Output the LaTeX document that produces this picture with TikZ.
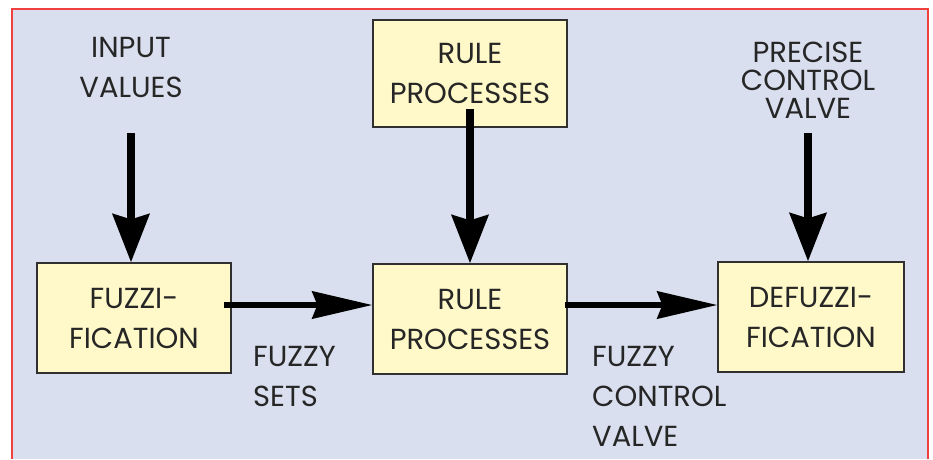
\documentclass[tikz,border=0pt]{standalone}
\usepackage{fontspec}
\setmainfont{Poppins}
\usetikzlibrary{arrows.meta}
\definecolor{bgblue}{HTML}{D9DFEE}
\definecolor{boxfill}{HTML}{FFF8C8}
\definecolor{frame}{HTML}{F04040}
\definecolor{edge}{HTML}{303030}
\tikzset{
  x=1pt,y=1pt,
  txt/.style={inner sep=0pt, align=center, font=\fontsize{29}{40}\selectfont, text=black!85},
  blk/.style={draw=edge, line width=1.2pt, fill=boxfill, minimum width=194pt, minimum height=110pt, inner sep=0pt, align=center, font=\fontsize{29}{40}\selectfont, text=black!85},
  varrow/.style={line width=8.5pt, -{Stealth[length=48pt,width=36pt,inset=5pt]}},
  harrow/.style={line width=6pt, -{Stealth[length=60pt,width=27pt,inset=5pt]}},
}
\begin{document}
\begin{tikzpicture}
\useasboundingbox (0,0) rectangle (933,-459);
\fill[bgblue] (12,-9) rectangle (928,-459);
\draw[frame, line width=2pt] (12,-459) -- (12,-9) -- (928,-9) -- (928,-459);
% boxes
\node[blk] (fz) at (134,-318) {FUZZI-\\FICATION};
\node[blk] (rp) at (470,-319) {RULE\\PROCESSES};
\node[blk, minimum width=186pt] (df) at (811,-317) {DEFUZZI-\\FICATION};
\node[blk, minimum height=107pt] (rt) at (470,-73.5) {RULE\\PROCESSES};
% labels
\node[txt, anchor=north] (iv) at (131,-37) {INPUT\\VALUES};
\node[txt, anchor=north, font=\fontsize{29}{28}\selectfont] (pc) at (808,-42) {PRECISE\\CONTROL\\VALVE};
\node[txt, anchor=north west, align=left] (fs) at (253,-346) {FUZZY\\SETS};
\node[txt, anchor=north west, align=left] (fc) at (592,-346) {FUZZY\\CONTROL\\VALVE};
% coordinates
\coordinate (ivs) at (131,-133);
\coordinate (pcs) at (808,-133);
% arrows
\draw[varrow] (ivs) -- (fz.north -| ivs);
\draw[varrow] ([yshift=19pt]rt.south) -- (rp.north);
\draw[varrow] (pcs) -- (df.north -| pcs);
\draw[harrow] ([xshift=-8pt,yshift=13pt]fz.east) -- (rp.west |- {(0,-305)});
\draw[harrow] ([xshift=-3pt,yshift=14pt]rp.east) -- (df.west |- {(0,-305)});
\end{tikzpicture}
\end{document}
